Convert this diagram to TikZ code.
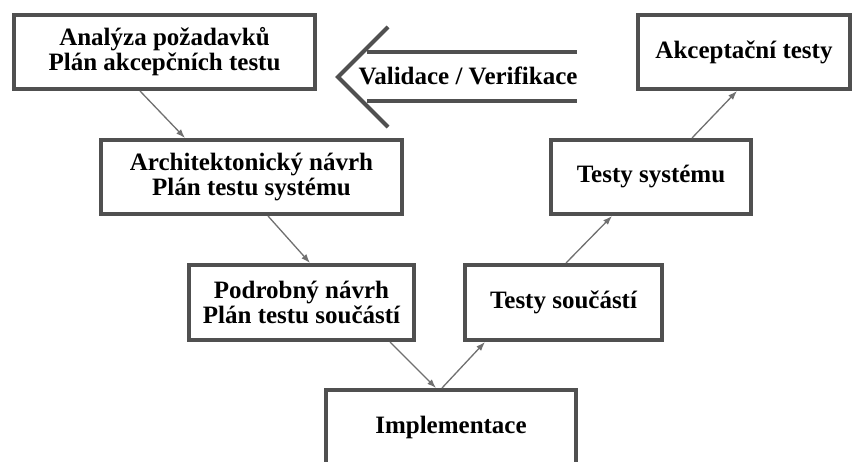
\documentclass[tikz,border=0pt]{standalone}
\usepackage{fontspec}
\setmainfont{Liberation Serif}
\usetikzlibrary{arrows.meta,calc}
\definecolor{frame}{HTML}{505050}
\definecolor{wire}{HTML}{707070}
\tikzset{flow/.style={draw=wire, line width=1.3pt, -{Latex[length=9pt,width=6.5pt]}},
  stage/.style={draw=frame, line width=4pt, fill=white, minimum height=74pt, inner sep=0pt, align=center, font=\bfseries\fontsize{25}{25}\selectfont}}

\begin{document}
\begin{tikzpicture}[x=1pt, y=-1pt]
  \useasboundingbox (0,0) rectangle (856,462);
  \clip (0,0) rectangle (856,462);
  % left branch
  \node[stage, minimum width=301pt] (req) at (164.5,52) {Analýza požadavků\\Plán akcepčních testu};
  \node[stage, minimum width=301pt] (arch) at (251.5,177) {Architektonický návrh\\Plán testu systému};
  \node[stage, minimum width=225pt, minimum height=75pt] (det) at (301.5,302.5) {Podrobný návrh\\Plán testu součástí};
  % bottom
  \node[stage, minimum width=250pt] (impl) at (451,427) {Implementace};
  % right branch
  \node[stage, minimum width=197pt, minimum height=75pt] (unit) at (563.5,302.5) {Testy součástí};
  \node[stage, minimum width=200pt] (sys) at (651,177) {Testy systému};
  \node[stage, minimum width=212pt] (acc) at (744,52) {Akceptační testy};
  % validation arrow
  \draw[frame, line width=4pt] (388,27) -- (338,77) -- (388,127);
  \draw[frame, line width=3.5pt] (367,52) -- (577,52);
  \draw[frame, line width=3.5pt] (367,101) -- (577,101);
  \node[inner sep=0pt, font=\bfseries\fontsize{25}{25}\selectfont] (vv) at (468,76) {Validace / Verifikace};
  % flow down
  \draw[flow] ($(req.south)+(-24.5,0)$) -- ($(arch.north)+(-66.5,0)$);
  \draw[flow] ($(arch.south)+(16.5,0)$) -- ($(det.north)+(8.5,0)$);
  \draw[flow] ($(det.south)+(88.5,0)$) -- ($(impl.north)+(-15,0)$);
  % flow up
  \draw[flow] ($(impl.north)+(-9,0)$) -- ($(unit.south)+(-78.5,0)$);
  \draw[flow] ($(unit.north)+(2.5,0)$) -- ($(sys.south)+(-39,0)$);
  \draw[flow] ($(sys.north)+(41,0)$) -- ($(acc.south)+(-7,0)$);
\end{tikzpicture}
\end{document}
